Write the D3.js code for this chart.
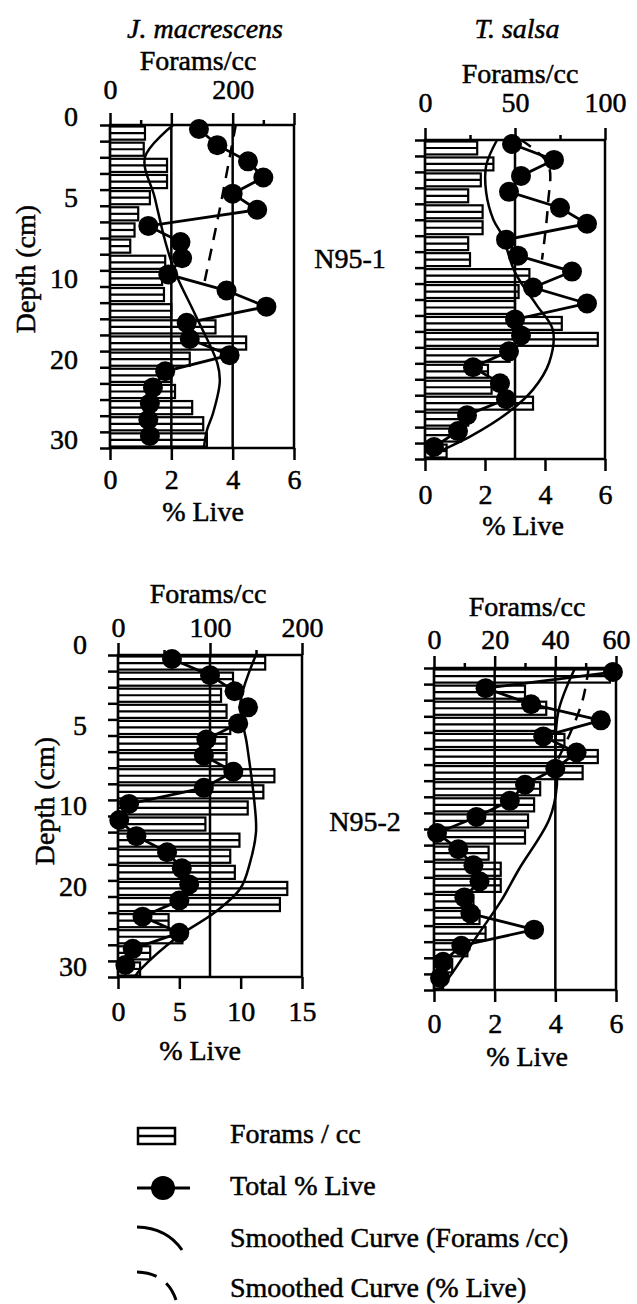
<!DOCTYPE html>
<html>
  <head>
    <script type="text/javascript" src="https://cdn.jsdelivr.net/npm/d3@7"></script>
    <style>
      body { margin: 0; background: #fff; }
      svg text { font-family: "Liberation Serif", "DejaVu Serif", "Times New Roman", serif; fill: #000; stroke: #000; stroke-width: 0.5px; }
    </style>
  </head>
  <body>
    <div id="viz"></div>
    <script type="text/javascript">
      // sample intervals (cm): 1 cm to 10 cm, then 2 cm
      const sampleTop    = [0,1,2,3,4,5,6,7,8,9,10,12,14,16,18,20,22,24,26,28];
      const sampleBottom = [1,2,3,4,5,6,7,8,9,10,12,14,16,18,20,22,24,26,28,30];
      const depthTicks = [0,1,2,3,4,5,6,7,8,9,10,12,14,16,18,20,22,24,26,28,30];
      const depthLabels = [0,5,10,20,30];

      // J. macrescens, N95-1
      const jm1Forams = [57,55,93,93,65,46,40,33,90,85,88,100,172,222,130,100,106,134,152,158];
      const jm1Live = [2.9,3.5,4.5,5.0,4.0,4.8,1.25,2.3,2.35,1.9,3.8,5.1,2.5,2.6,3.9,1.8,1.4,1.3,1.25,1.3];
      const jm1SmoothDepth = [0,2,4.5,7.2,9.1,13.5,19.5,21.8,25.7,27.8,30];
      const jm1SmoothForams = [103,57,73,90,106,139,175,179,168,158,153];
      const jm1DashDepth = [0,5,10];
      const jm1DashLive = [4.1,3.6,3.05];

      // T. salsa, N95-1
      const ts1Forams = [29,38,31,24,32,32,24,25,58,52,50,76,96,47,35,37,60,24,20,12];
      const ts1Live = [2.9,4.3,3.2,2.8,4.5,5.4,2.7,3.1,4.9,3.6,5.4,3.0,3.2,2.8,1.6,2.5,2.7,1.4,1.1,0.3];
      const ts1SmoothDepth = [0,1.6,3.3,5,6,8.3,10.7,13.8,17.9,21.3,24.2,27.2,29.2,30];
      const ts1SmoothForams = [40,34,34,38,43,50,62,71,69,60,46,25,7,2];
      const ts1DashDepth = [0,1.5,4,7.5];
      const ts1DashLive = [3.2,4.1,4.1,3.9];

      // J. macrescens, N95-2
      const jm2Forams = [160,125,112,118,122,118,118,170,158,141,95,132,122,127,184,176,55,70,35,24];
      const jm2Live = [4.4,7.5,9.5,10.6,9.8,7.2,7.0,9.4,7.0,0.9,0.1,1.5,4.0,5.2,5.8,5.0,2.0,5.0,1.2,0.6];
      const jm2SmoothDepth = [0,3,5.5,9,12,16,19,22,25,29,30];
      const jm2SmoothForams = [150,133,140,148,150,143,133,105,65,25,18];

      // T. salsa, N95-2
      const ts2Forams = [58,30,37,40,43,54,49,35,33,31,30,18,22,22,13,15,17,11,6,3];
      const ts2Live = [5.9,1.7,3.2,5.5,3.6,4.7,4.0,3.0,2.5,1.4,0.1,0.8,1.3,1.5,1.0,1.2,3.3,0.9,0.3,0.2];
      const ts2SmoothDepth = [0,2.7,5.4,7.3,9.4,15,19,23.4,27.9,30];
      const ts2SmoothForams = [46.5,41,40,40.5,38,28,22,14,6,2];
      const ts2DashDepth = [0,2,4,6];
      const ts2DashLive = [5.1,4.9,4.5,4.0];

      const legendLabels = ["Forams / cc", "Total % Live", "Smoothed Curve (Forams /cc)", "Smoothed Curve (% Live)"];

      const width = 637;
      const height = 1304;

      var svg = d3.select("#viz")
        .append("svg")
        .attr("width", width)
        .attr("height", height);

      const panels = [
        { forams: jm1Forams, live: jm1Live, sDepth: jm1SmoothDepth, sForams: jm1SmoothForams,
          dDepth: jm1DashDepth, dLive: jm1DashLive,
          fMax: 300, fMajor: [0,100,200,300], fMinor: [50,150,250], fLabels: [0,200], fGrid: [100,200],
          lMax: 6, lTicks: [0,2,4,6],
          x0: 110, x1: 294, y0: 125, y1: 448, topPad: 14, botPad: 9,
          depthText: true, depthPad: 22, depthShift: -8, depthTitle: [25, 269],
          title: ["J. macrescens", 205, 28], foramsTitle: [198, 60], liveTitle: [203, 511] },
        { forams: ts1Forams, live: ts1Live, sDepth: ts1SmoothDepth, sForams: ts1SmoothForams,
          dDepth: ts1DashDepth, dLive: ts1DashLive,
          fMax: 100, fMajor: [0,50,100], fMinor: [25,75], fLabels: [0,50,100], fGrid: [50],
          lMax: 6, lTicks: [0,2,4,6],
          x0: 425, x1: 605, y0: 140, y1: 459, topPad: 16, botPad: 13,
          depthText: false,
          title: ["T. salsa", 517, 28], foramsTitle: [520, 73], liveTitle: [523, 525],
          site: ["N95-1", 350, 258] },
        { forams: jm2Forams, live: jm2Live, sDepth: jm2SmoothDepth, sForams: jm2SmoothForams,
          dDepth: null, dLive: null,
          fMax: 200, fMajor: [0,100,200], fMinor: [50,150], fLabels: [0,100,200], fGrid: [100],
          lMax: 15, lTicks: [0,5,10,15],
          x0: 118, x1: 302, y0: 655, y1: 977, topPad: 6, botPad: 12,
          depthText: true, depthPad: 21, depthShift: -10, depthTitle: [44, 801],
          foramsTitle: [208, 593], liveTitle: [200, 1050] },
        { forams: ts2Forams, live: ts2Live, sDepth: ts2SmoothDepth, sForams: ts2SmoothForams,
          dDepth: ts2DashDepth, dLive: ts2DashLive,
          fMax: 60, fMajor: [0,20,40,60], fMinor: [10,30,50], fLabels: [0,20,40,60], fGrid: [20,40],
          lMax: 6, lTicks: [0,2,4,6],
          x0: 434, x1: 616, y0: 668, y1: 990, topPad: 7, botPad: 11,
          depthText: false,
          foramsTitle: [527, 606], liveTitle: [527, 1056],
          site: ["N95-2", 365, 821] }
      ];

      panels.forEach(drawPanel);
      drawLegend();

      function styleAxis(g){
        g.select(".domain").remove();
        g.attr("font-family", null).attr("font-size", 28);
        g.selectAll("line").attr("stroke-width", 2.5);
      }

      function label(text, x, y, opts){
        const t = svg.append("text")
          .attr("x", x)
          .attr("y", y)
          .attr("dy", "0.35em")
          .attr("text-anchor", "middle")
          .attr("font-size", 28)
          .text(text);
        if (opts && opts.italic) t.attr("font-style", "italic");
        if (opts && opts.rotate) t.attr("transform", "rotate(-90," + x + "," + y + ")");
        return t;
      }

      function drawPanel(p){
        const g = svg.append("g");
        const xF = d3.scaleLinear().domain([0, p.fMax]).range([p.x0, p.x1]);
        const xL = d3.scaleLinear().domain([0, p.lMax]).range([p.x0, p.x1]);
        const y = d3.scaleLinear().domain([0, 10, 30]).range([p.y0, (p.y0 + p.y1) / 2, p.y1]);

        // hatched bars
        const bars = g.selectAll("g.bar")
          .data(p.forams)
          .enter()
          .append("g")
          .attr("class", "bar");

        bars.append("rect")
          .attr("x", p.x0)
          .attr("y", (d, i) => y(sampleTop[i]) + 1.5)
          .attr("width", d => xF(d) - p.x0)
          .attr("height", (d, i) => y(sampleBottom[i]) - y(sampleTop[i]) - 3)
          .style("fill", "#fff")
          .style("stroke", "#000")
          .style("stroke-width", 2.2);

        bars.append("line")
          .attr("x1", p.x0)
          .attr("x2", d => xF(d))
          .attr("y1", (d, i) => (y(sampleTop[i]) + y(sampleBottom[i])) / 2)
          .attr("y2", (d, i) => (y(sampleTop[i]) + y(sampleBottom[i])) / 2)
          .style("stroke", "#000")
          .style("stroke-width", 2.2);

        // grid lines
        g.selectAll("line.grid")
          .data(p.fGrid)
          .enter()
          .append("line")
          .attr("class", "grid")
          .attr("x1", d => xF(d))
          .attr("x2", d => xF(d))
          .attr("y1", p.y0)
          .attr("y2", p.y1)
          .style("stroke", "#000")
          .style("stroke-width", 2.5);

        // frame
        g.append("rect")
          .attr("x", p.x0)
          .attr("y", p.y0)
          .attr("width", p.x1 - p.x0)
          .attr("height", p.y1 - p.y0)
          .style("fill", "none")
          .style("stroke", "#000")
          .style("stroke-width", 2.5);

        // top axis (forams/cc)
        g.append("g")
          .attr("transform", "translate(0," + p.y0 + ")")
          .call(d3.axisTop(xF).tickValues(p.fMajor).tickSize(12).tickPadding(p.topPad)
            .tickFormat(d => p.fLabels.includes(d) ? String(d) : ""))
          .call(styleAxis);
        g.append("g")
          .attr("transform", "translate(0," + p.y0 + ")")
          .call(d3.axisTop(xF).tickValues(p.fMinor).tickSize(5).tickFormat(""))
          .call(styleAxis);

        // bottom axis (% live)
        g.append("g")
          .attr("transform", "translate(0," + p.y1 + ")")
          .call(d3.axisBottom(xL).tickValues(p.lTicks).tickSize(12).tickPadding(p.botPad)
            .tickFormat(d => String(d)))
          .call(styleAxis);

        // depth axis
        const left = g.append("g")
          .attr("transform", "translate(" + p.x0 + ",0)")
          .call(d3.axisLeft(y).tickValues(depthTicks).tickSize(10).tickPadding(p.depthPad || 3)
            .tickFormat(d => p.depthText && depthLabels.includes(d) ? String(d) : ""))
          .call(styleAxis);
        if (p.depthText) left.selectAll("text").attr("y", p.depthShift);

        // smoothed curve (forams/cc)
        const smooth = d3.line()
          .x(d => xF(d[1]))
          .y(d => y(d[0]))
          .curve(d3.curveCatmullRom);
        g.append("path")
          .datum(d3.zip(p.sDepth, p.sForams))
          .attr("d", smooth)
          .style("fill", "none")
          .style("stroke", "#000")
          .style("stroke-width", 2.5);

        // smoothed curve (% live), dashed
        if (p.dDepth){
          const dash = d3.line()
            .x(d => xL(d[1]))
            .y(d => y(d[0]))
            .curve(d3.curveCatmullRom);
          g.append("path")
            .datum(d3.zip(p.dDepth, p.dLive))
            .attr("d", dash)
            .style("fill", "none")
            .style("stroke", "#000")
            .style("stroke-width", 2.5)
            .style("stroke-dasharray", "12,9");
        }

        // total % live
        const pts = p.live.map((v, i) => [sampleTop[i] + 0.25 * (sampleBottom[i] - sampleTop[i]), v]);
        g.append("path")
          .datum(pts)
          .attr("d", d3.line().x(d => xL(d[1])).y(d => y(d[0])))
          .style("fill", "none")
          .style("stroke", "#000")
          .style("stroke-width", 2.8);
        g.selectAll("circle.live")
          .data(pts)
          .enter()
          .append("circle")
          .attr("class", "live")
          .attr("cx", d => xL(d[1]))
          .attr("cy", d => y(d[0]))
          .attr("r", 10)
          .style("fill", "#000");

        // texts
        if (p.title) label(p.title[0], p.title[1], p.title[2], { italic: true });
        label("Forams/cc", p.foramsTitle[0], p.foramsTitle[1]);
        label("% Live", p.liveTitle[0], p.liveTitle[1]);
        if (p.depthText) label("Depth (cm)", p.depthTitle[0], p.depthTitle[1], { rotate: true });
        if (p.site) label(p.site[0], p.site[1], p.site[2]);
      }

      function drawLegend(){
        const lg = svg.append("g");
        const rows = [1133, 1185, 1237, 1287];

        lg.append("rect")
          .attr("x", 138).attr("y", 1128)
          .attr("width", 37).attr("height", 16)
          .style("fill", "#fff").style("stroke", "#000").style("stroke-width", 2.5);
        lg.append("line")
          .attr("x1", 138).attr("x2", 175).attr("y1", 1136).attr("y2", 1136)
          .style("stroke", "#000").style("stroke-width", 2.5);

        lg.append("line")
          .attr("x1", 137).attr("x2", 190).attr("y1", 1188).attr("y2", 1188)
          .style("stroke", "#000").style("stroke-width", 3);
        lg.append("circle")
          .attr("cx", 163).attr("cy", 1188).attr("r", 12)
          .style("fill", "#000");

        lg.append("path")
          .attr("d", "M137,1227 Q167,1228 182,1250")
          .style("fill", "none").style("stroke", "#000").style("stroke-width", 3);
        lg.append("path")
          .attr("d", "M137,1272 Q167,1273 176,1300")
          .style("fill", "none").style("stroke", "#000").style("stroke-width", 3)
          .style("stroke-dasharray", "20,12");

        lg.selectAll("text")
          .data(legendLabels)
          .enter()
          .append("text")
          .attr("x", 230)
          .attr("y", (d, i) => rows[i])
          .attr("dy", "0.35em")
          .attr("font-size", 28)
          .text(d => d);
      }
    </script>
  </body>
</html>
